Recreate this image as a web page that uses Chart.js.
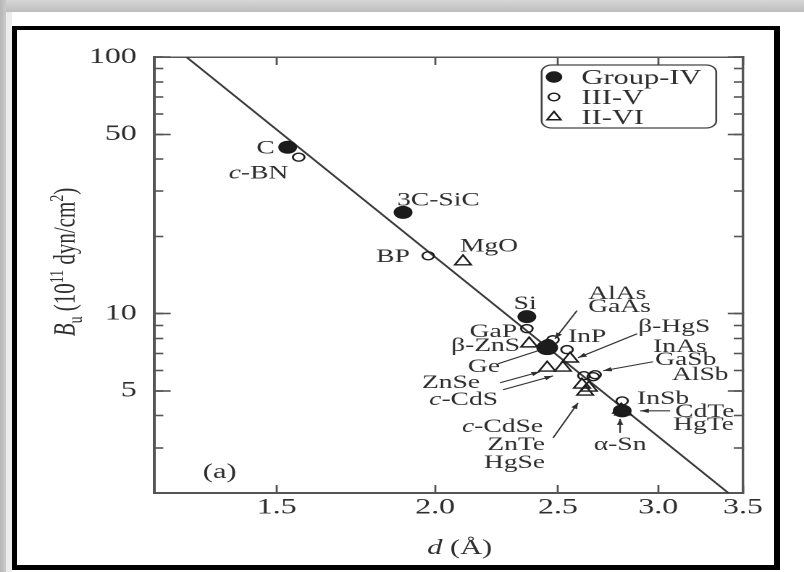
<!DOCTYPE html>
<html><head><meta charset="utf-8">
<script src="https://cdn.jsdelivr.net/npm/chart.js@4.4.1/dist/chart.umd.min.js"></script>
<style>
html,body{margin:0;padding:0;background:#fff;}
body{width:804px;height:572px;position:relative;overflow:hidden;}
#topband{position:absolute;left:0;top:0;width:804px;height:12px;background:linear-gradient(to bottom,#d6d6d6,#bdbdbd);}
#leftband{position:absolute;left:0;top:0;width:6px;height:572px;background:linear-gradient(to right,#b6b6b6,#cacaca);}
#leftlight{position:absolute;left:6px;top:12px;width:6px;height:560px;background:#ececec;}
#frame{position:absolute;left:12px;top:26px;width:768px;height:544px;box-sizing:border-box;border-style:solid;border-color:#000;border-width:4px 6px 5px 5px;}
#wrap{position:absolute;left:0;top:0;width:555px;height:572px;transform-origin:0 0;transform:scaleX(1.448649);}
</style></head>
<body>
<div id="topband"></div><div id="leftband"></div><div id="leftlight"></div><div id="frame"></div>
<div id="wrap"><canvas id="c"></canvas></div>
<script>
// ---------- data ----------
const xTicks = [1.5, 2.0, 2.5, 3.0, 3.5];
const yMajorTicks = [5, 10, 50, 100];
const yMinorTicks = [3, 4, 6, 7, 8, 9, 20, 30, 40, 60, 70, 80, 90];

const groupIVNames = ['C', '3C-SiC', 'Si', 'Ge', 'α-Sn'];
const groupIVD = [1.53, 1.887, 2.363, 2.452, 2.81];
const groupIVB = [44.5, 24.8, 9.73, 7.37, 4.18];

const iiivNames = ['c-BN', 'BP', 'GaP', 'AlAs', 'GaAs', 'InP', 'InAs', 'GaSb', 'AlSb', 'InSb'];
const iiivD = [1.561, 1.975, 2.363, 2.478, 2.456, 2.542, 2.621, 2.666, 2.675, 2.81];
const iiivB = [40.7, 16.8, 8.74, 7.91, 7.64, 7.24, 5.73, 5.68, 5.78, 4.57];

const iiviNames = ['MgO', 'β-ZnS', 'ZnSe', 'c-CdS', 'β-HgS', 'c-CdSe', 'ZnTe', 'HgSe', 'CdTe', 'HgTe'];
const iiviD = [2.104, 2.373, 2.452, 2.523, 2.556, 2.612, 2.645, 2.627, 2.815, 2.805];
const iiviB = [15.96, 7.64, 6.15, 6.15, 6.67, 5.28, 5.14, 4.96, 4.15, 4.22];

const fitD = [1.2727, 3.4084];
const fitB = [100, 2];

const seriesLabels = ['Group-IV', 'III-V', 'II-VI'];

// annotation labels (position in data space, alignment)
const labels = [
  {t: 'C', x: 1.4945, y: 44.5, a: 'right'},
  {t: '*c*-BN', x: 1.451, y: 35.5, a: 'center'},
  {t: '3C-SiC', x: 2.0124, y: 27.88, a: 'center'},
  {t: 'BP', x: 1.9103, y: 16.83, a: 'right'},
  {t: 'MgO', x: 2.2058, y: 18.44, a: 'center'},
  {t: 'Si', x: 2.3552, y: 11.04, a: 'center'},
  {t: 'AlAs', x: 2.6415, y: 12.08, a: 'left'},
  {t: 'GaAs', x: 2.6415, y: 10.75, a: 'left'},
  {t: 'GaP', x: 2.3212, y: 8.58, a: 'right'},
  {t: 'InP', x: 2.5465, y: 8.21, a: 'left'},
  {t: 'β-HgS', x: 2.8925, y: 8.98, a: 'left'},
  {t: 'β-ZnS', x: 2.334, y: 7.57, a: 'right'},
  {t: 'InAs', x: 2.9725, y: 7.5, a: 'left'},
  {t: 'Ge', x: 2.1859, y: 6.265, a: 'center'},
  {t: 'GaSb', x: 2.9834, y: 6.672, a: 'left'},
  {t: 'ZnSe', x: 2.1701, y: 5.425, a: 'right'},
  {t: 'AlSb', x: 3.0759, y: 5.83, a: 'left'},
  {t: '*c*-CdS', x: 2.2423, y: 4.656, a: 'right'},
  {t: 'InSb', x: 2.8873, y: 4.698, a: 'left'},
  {t: 'CdTe', x: 3.0939, y: 4.18, a: 'left'},
  {t: '*c*-CdSe', x: 2.4334, y: 3.65, a: 'right'},
  {t: 'HgTe', x: 3.0827, y: 3.718, a: 'left'},
  {t: 'ZnTe', x: 2.4423, y: 3.106, a: 'right'},
  {t: 'α-Sn', x: 2.7993, y: 3.106, a: 'center'},
  {t: 'HgSe', x: 2.4423, y: 2.642, a: 'right'},
  {t: '(a)', x: 1.352, y: 2.436, a: 'center', big: true}
];
// leader lines: from label to point (data space)
const arrows = [
  {from: [2.2423, 6.378], to: [2.4115, 7.17], head: false},
  {from: [2.2505, 5.376], to: [2.4203, 5.935], head: true},
  {from: [2.2628, 5.049], to: [2.4784, 5.72], head: true},
  {from: [2.4784, 3.279], to: [2.5931, 4.489], head: true},
  {from: [2.5884, 10.27], to: [2.4874, 7.986], head: true},
  {from: [2.8873, 8.35], to: [2.5931, 6.73], head: true},
  {from: [2.9725, 6.494], to: [2.7142, 5.99], head: true},
  {from: [3.0659, 4.18], to: [2.9032, 4.18], head: true},
  {from: [2.7993, 3.43], to: [2.7993, 3.889], head: true}
];

// ---------- styling ----------
const FONT = '"Liberation Serif", "Times New Roman", serif';
const TEXT = '#2e2e2e';
const AXIS = '#555';
const MARK = '#1c1c1c';

Chart.defaults.font.family = FONT;

function pts(xs, ys) { return xs.map((v, i) => ({x: v, y: ys[i]})); }

function parseRich(t) {
  const out = [];
  const parts = t.split('*');
  parts.forEach((p, i) => { if (p) out.push({t: p, it: i % 2 === 1}); });
  return out;
}
function drawRich(ctx, segs, x, y, align, size) {
  const parts = segs.map(s => {
    const fs = (s.sup || s.sub) ? size * 0.66 : size;
    const font = (s.it ? 'italic ' : '') + fs + 'px ' + FONT;
    ctx.font = font;
    return {s, font, w: ctx.measureText(s.t).width, dy: s.sup ? -size * 0.4 : (s.sub ? size * 0.22 : 0)};
  });
  const total = parts.reduce((a, p) => a + p.w, 0);
  let cx = align === 'center' ? x - total / 2 : (align === 'right' ? x - total : x);
  const base = y + size * 0.33;
  ctx.textAlign = 'left';
  ctx.textBaseline = 'alphabetic';
  parts.forEach(p => {
    ctx.font = p.font;
    ctx.fillText(p.s.t, cx, base + p.dy);
    cx += p.w;
  });
}

const annotPlugin = {
  id: 'annot',
  afterDatasetsDraw(chart) {
    const {ctx, chartArea: ca} = chart;
    const sx = chart.scales.x, sy = chart.scales.y;
    ctx.save();
    ctx.fillStyle = TEXT;
    ctx.strokeStyle = '#333';
    ctx.lineWidth = 1.1;
    // leader lines / arrows
    arrows.forEach(a => {
      const x1 = sx.getPixelForValue(a.from[0]), y1 = sy.getPixelForValue(a.from[1]);
      const x2 = sx.getPixelForValue(a.to[0]), y2 = sy.getPixelForValue(a.to[1]);
      ctx.beginPath(); ctx.moveTo(x1, y1); ctx.lineTo(x2, y2); ctx.stroke();
      if (a.head) {
        const ang = Math.atan2(y2 - y1, x2 - x1), L = 6, W = 2.2;
        ctx.beginPath();
        ctx.moveTo(x2, y2);
        ctx.lineTo(x2 - L * Math.cos(ang) + W * Math.sin(ang), y2 - L * Math.sin(ang) - W * Math.cos(ang));
        ctx.lineTo(x2 - L * Math.cos(ang) - W * Math.sin(ang), y2 - L * Math.sin(ang) + W * Math.cos(ang));
        ctx.closePath(); ctx.fill();
      }
    });
    // point labels
    labels.forEach(l => {
      drawRich(ctx, parseRich(l.t), sx.getPixelForValue(l.x), sy.getPixelForValue(l.y), l.a, l.big ? 21 : 19);
    });
    // legend box
    const bx = ca.right - 139, by = ca.top + 8, bw = 120.5, bh = 63;
    ctx.strokeStyle = '#444'; ctx.lineWidth = 1.3;
    ctx.beginPath();
    if (ctx.roundRect) ctx.roundRect(bx, by, bw, bh, 7); else ctx.rect(bx, by, bw, bh);
    ctx.stroke();
    const ds = chart.data.datasets;
    [0, 1, 2].forEach(i => {
      const d = ds[i];
      const my = by + 12 + i * 20, mx = bx + 8.5;
      ctx.beginPath();
      if (d.pointStyle === 'triangle') {
        const r = 5.5;
        ctx.moveTo(mx, my - r);
        ctx.lineTo(mx + r * 0.866, my + r * 0.5);
        ctx.lineTo(mx - r * 0.866, my + r * 0.5);
        ctx.closePath();
      } else {
        ctx.arc(mx, my, i === 0 ? 5 : 3.8, 0, Math.PI * 2);
      }
      ctx.lineWidth = 1.4;
      ctx.strokeStyle = MARK;
      if (i === 0) { ctx.fillStyle = MARK; ctx.fill(); }
      ctx.stroke();
      ctx.fillStyle = TEXT;
      drawRich(ctx, [{t: d.label}], bx + 27.5, my, 'left', 21);
    });
    // axis titles
    drawRich(ctx, [{t: 'd', it: true}, {t: ' (Å)'}], ca.left + 211, ca.bottom + 54, 'center', 21);
    ctx.save();
    ctx.translate(ca.left - 61.5, 262);
    ctx.rotate(-Math.PI / 2);
    drawRich(ctx, [{t: 'B', it: true}, {t: 'u', sub: true}, {t: ' (10'}, {t: '11', sup: true}, {t: ' dyn/cm'}, {t: '2', sup: true}, {t: ')'}], 0, 0, 'center', 21);
    ctx.restore();
    ctx.restore();
  }
};

function fixed(list) { return s => { s.ticks = list.map(v => ({value: v})); }; }
const allY = yMajorTicks.concat(yMinorTicks).sort((a, b) => a - b);

function yAxis(pos, list, len, labelsOn, size, weight) {
  return {
    type: 'logarithmic', axis: 'y', position: pos, min: 2, max: 100, weight: weight,
    afterBuildTicks: fixed(list), afterFit: s => { s.width = size; },
    ticks: {
      display: labelsOn, autoSkip: false, padding: len + 11.9, color: TEXT,
      font: {family: FONT, size: 22},
      callback: v => (yMajorTicks.includes(v) ? String(v) : '')
    },
    grid: {drawOnChartArea: false, drawTicks: true, tickLength: -len, tickColor: AXIS, tickWidth: 1.6},
    border: {display: true, color: AXIS, width: pos === 'left' ? 2 : 1.6}
  };
}
function xAxis(pos, labelsOn, size) {
  return {
    type: 'logarithmic', axis: 'x', position: pos, min: 1.2, max: 3.5,
    afterBuildTicks: fixed(xTicks), afterFit: s => { s.height = size; },
    ticks: {
      display: labelsOn, autoSkip: false, maxRotation: 0, padding: 8 + 1.3, color: TEXT,
      font: {family: FONT, size: 22},
      callback: v => Number(v).toFixed(1)
    },
    grid: {drawOnChartArea: false, drawTicks: true, tickLength: -8, tickColor: AXIS, tickWidth: 1.4},
    border: {display: true, color: AXIS, width: pos === 'bottom' ? 2 : 1.5}
  };
}

new Chart(document.getElementById('c'), {
  type: 'scatter',
  data: {
    datasets: [
      {label: seriesLabels[0], data: pts(groupIVD, groupIVB), pointStyle: 'circle',
       backgroundColor: MARK, borderColor: MARK, borderWidth: 1,
       pointRadius: ctx => (groupIVNames[ctx.dataIndex] === 'Ge' ? 7 : 6)},
      {label: seriesLabels[1], data: pts(iiivD, iiivB), pointStyle: 'circle',
       backgroundColor: 'rgba(255,255,255,0)', borderColor: MARK, borderWidth: 1.4, pointRadius: 4},
      {label: seriesLabels[2], data: pts(iiviD, iiviB), pointStyle: 'triangle',
       backgroundColor: 'rgba(255,255,255,0)', borderColor: MARK, borderWidth: 1.4, pointRadius: 6.5},
      {label: 'fit', data: pts(fitD, fitB), showLine: true, pointRadius: 0,
       borderColor: '#3a3a3a', borderWidth: 1.6, fill: false}
    ]
  },
  options: {
    responsive: true, maintainAspectRatio: false, animation: false,
    devicePixelRatio: 2,
    layout: {padding: {left: 0, top: 57, right: 42.1, bottom: 0}},
    plugins: {legend: {display: false}, tooltip: {enabled: false}},
    events: [],
    scales: {
      x: xAxis('bottom', true, 79),
      xTop: xAxis('top', false, 0),
      y: yAxis('left', allY, 6.4, true, 106.3, 5),
      yMaj: yAxis('left', yMajorTicks, 11.5, false, 0, 0),
      yR: yAxis('right', allY, 6.4, false, 0, 0),
      yRMaj: yAxis('right', yMajorTicks, 10.5, false, 0, 1)
    }
  },
  plugins: [annotPlugin]
});
</script></body></html>
